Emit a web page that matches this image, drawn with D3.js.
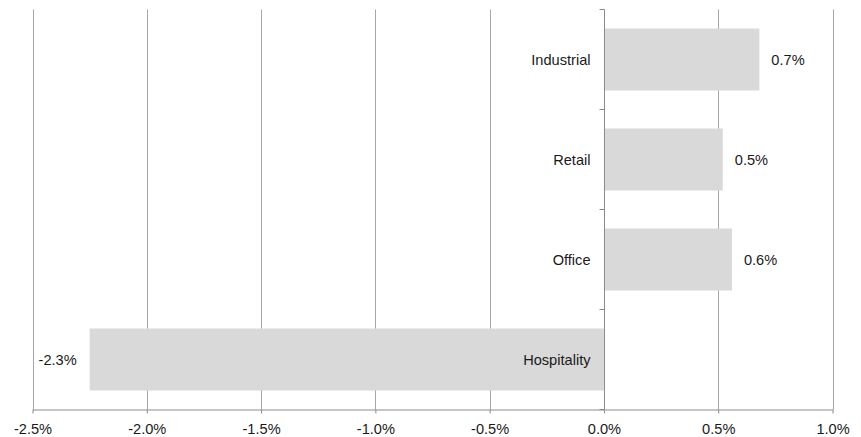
<!DOCTYPE html>
<html>
<head>
<meta charset="utf-8">
<script src="https://cdn.jsdelivr.net/npm/d3@7"></script>
<style>
  html, body { margin: 0; padding: 0; background: #fff; }
  svg { display: block; font-family: "Liberation Sans", Arial, sans-serif; }
</style>
</head>
<body>
<svg id="chart" width="861" height="437"></svg>
<script>
// Sector returns (in %), top to bottom
const categories = ["Industrial", "Retail", "Office", "Hospitality"];
const values = [0.68, 0.52, 0.56, -2.25];
const xTicks = [-2.5, -2.0, -1.5, -1.0, -0.5, 0.0, 0.5, 1.0];

const svg = d3.select("#chart");
const fontSize = 14.6;
const textColor = "#1a1a1a";

const x = d3.scaleLinear().domain([-2.5, 1.0]).range([32.5, 832.5]);
const y = d3.scaleBand().domain(categories).range([9.5, 409.5])
  .paddingInner(0.38).paddingOuter(0.19);

// one decimal, plain hyphen for negatives
const fmt = v => d3.format(".1f")(v).replace("\u2212", "-") + "%";

// vertical gridlines
svg.append("g")
  .selectAll("line")
  .data(xTicks.filter(t => t !== 0))
  .join("line")
  .attr("x1", d => Math.round(x(d)) + 0.5)
  .attr("x2", d => Math.round(x(d)) + 0.5)
  .attr("y1", 9.5)
  .attr("y2", 409.5)
  .attr("stroke", "#a6a6a6")
  .attr("stroke-width", 1);

// bars
svg.append("g")
  .selectAll("rect")
  .data(categories)
  .join("rect")
  .attr("x", (c, i) => x(Math.min(0, values[i])))
  .attr("y", c => y(c))
  .attr("width", (c, i) => Math.abs(x(values[i]) - x(0)))
  .attr("height", y.bandwidth())
  .attr("fill", "#d9d9d9");

// bottom axis
const xAxis = d3.axisBottom(x)
  .tickValues(xTicks)
  .tickFormat(fmt)
  .tickSizeInner(4)
  .tickSizeOuter(0)
  .tickPadding(10);

const gx = svg.append("g")
  .attr("transform", "translate(0,409.5)")
  .call(xAxis);
gx.select(".domain").attr("stroke", "#8c8c8c");
gx.selectAll(".tick line").attr("stroke", "#8c8c8c");
gx.selectAll(".tick text")
  .attr("font-size", fontSize)
  .attr("font-family", "Liberation Sans, Arial, sans-serif")
  .attr("fill", textColor);

// vertical category axis at zero
const x0 = Math.round(x(0)) + 0.5;
svg.append("line")
  .attr("x1", x0).attr("x2", x0)
  .attr("y1", 9.5).attr("y2", 409.5)
  .attr("stroke", "#8c8c8c");

const boundaries = categories.map(c => y(c) - y.step() * y.paddingInner() / 2)
  .concat([y(categories[categories.length - 1]) + y.bandwidth() + y.step() * y.paddingInner() / 2]);
svg.append("g")
  .selectAll("line")
  .data(boundaries)
  .join("line")
  .attr("x1", x0 - 5).attr("x2", x0)
  .attr("y1", d => d).attr("y2", d => d)
  .attr("stroke", "#8c8c8c");

// category labels, right-aligned against the zero axis
svg.append("g")
  .selectAll("text")
  .data(categories)
  .join("text")
  .attr("x", x0 - 14)
  .attr("y", c => y(c) + y.bandwidth() / 2)
  .attr("dy", "0.35em")
  .attr("text-anchor", "end")
  .attr("font-size", fontSize)
  .attr("fill", textColor)
  .text(c => c);

// value labels beyond each bar end
svg.append("g")
  .selectAll("text")
  .data(categories)
  .join("text")
  .attr("x", (c, i) => values[i] >= 0 ? x(values[i]) + 12 : x(values[i]) - 13)
  .attr("y", c => y(c) + y.bandwidth() / 2)
  .attr("dy", "0.35em")
  .attr("text-anchor", (c, i) => values[i] >= 0 ? "start" : "end")
  .attr("font-size", fontSize)
  .attr("fill", textColor)
  .text((c, i) => fmt(values[i]));
</script>
</body>
</html>
